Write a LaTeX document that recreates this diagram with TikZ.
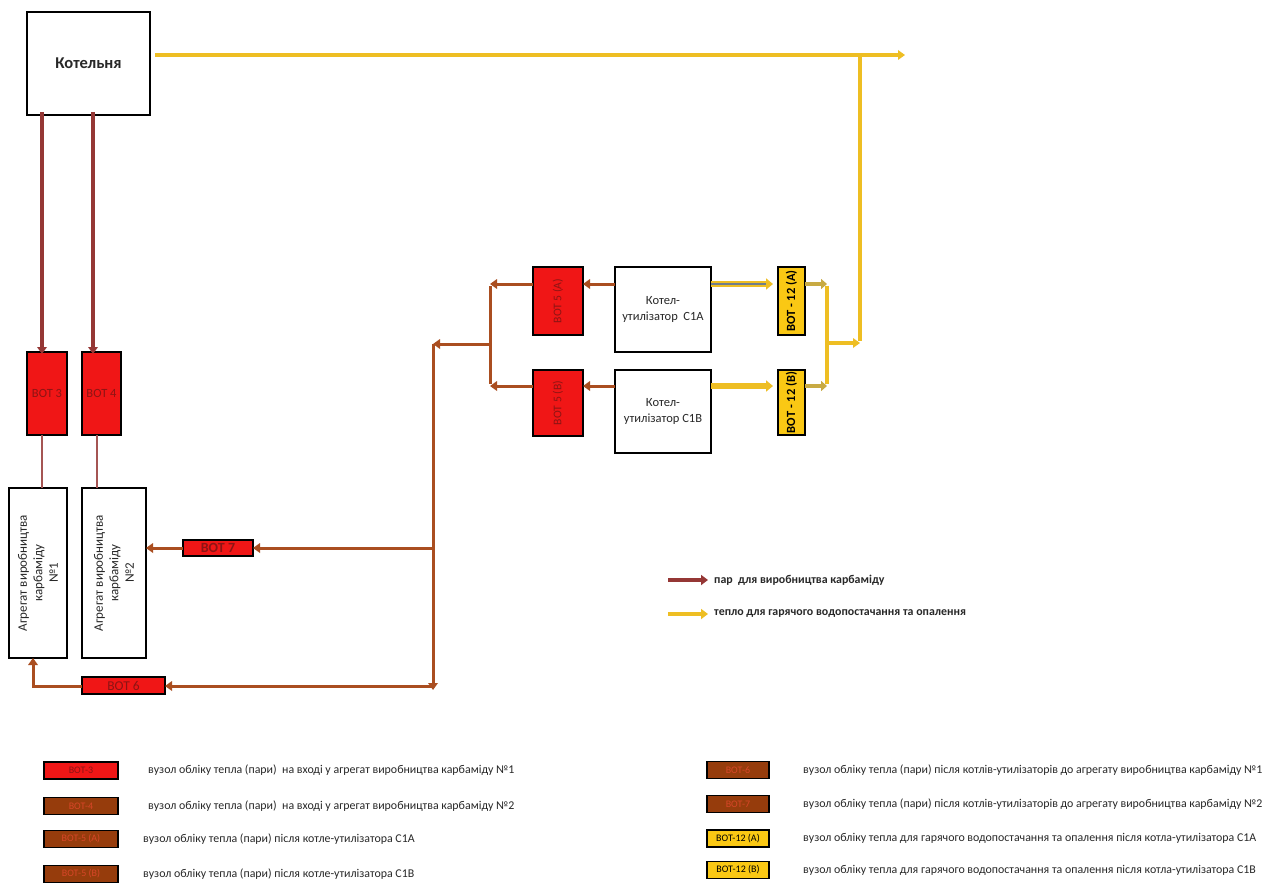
\documentclass[tikz,border=0pt]{standalone}
\usepackage{fontspec}
\setmainfont{Carlito}
\usetikzlibrary{arrows.meta}
\definecolor{steamc}{RGB}{149,55,53}
\definecolor{brownc}{RGB}{170,78,32}
\definecolor{yelc}{RGB}{238,190,35}
\definecolor{grayc}{RGB}{110,125,140}
\definecolor{boxred}{RGB}{240,22,22}
\definecolor{botred}{RGB}{140,20,20}
\definecolor{legbrown}{RGB}{150,60,12}
\definecolor{legtxt}{RGB}{215,70,40}
\definecolor{yelbox}{RGB}{250,200,20}
\definecolor{txtc}{RGB}{40,40,40}
\tikzset{
  wbox/.style={draw=black, line width=1.3pt, fill=white, inner sep=0pt, outer sep=0pt, align=center, text=txtc},
  rbox/.style={draw=black, line width=1.3pt, fill=boxred, inner sep=0pt, outer sep=0pt, text=botred, font=\fontsize{12.5}{13}\selectfont},
  ybox/.style={draw=black, line width=1.3pt, fill=yelbox, inner sep=0pt, outer sep=0pt, text=black, font=\bfseries\fontsize{12.5}{13}\selectfont},
  lgbox/.style={draw=black, line width=1.5pt, inner sep=0pt, outer sep=0pt, minimum width=74, minimum height=17, font=\fontsize{10}{11}\selectfont},
  lgtext/.style={anchor=west, inner sep=0pt, text=txtc, font=\fontsize{11.9}{13}\selectfont},
  aggtext/.style={rotate=90, align=center, text=txtc, font=\fontsize{13}{15.5}\selectfont},
  steam/.style={draw=steamc, line width=3.5pt},
  thin/.style={draw=steamc!85, line width=2pt},
  brn/.style={draw=brownc, line width=3pt},
  yel/.style={draw=yelc, line width=3.3pt},
  tip/.style={-{Triangle[width=9.5pt,length=7pt]}},
}
\begin{document}
\begin{tikzpicture}[x=1pt,y=-1pt]
\useasboundingbox (0,0) rectangle (1277,883);
\fill[white] (0,0) rectangle (1277,883);
% main boxes
\node[wbox, minimum width=123, minimum height=103, font=\bfseries\fontsize{16.5}{18}\selectfont] (kot) at (88.5,63.5) {Котельня};
\node[rbox, minimum width=40, minimum height=83] (bot3) at (47,393.5) {ВОТ 3};
\node[rbox, minimum width=39, minimum height=83] (bot4) at (101.5,393.5) {ВОТ 4};
\node[wbox, minimum width=58, minimum height=170] (agg1) at (38,573) {};
\node[aggtext] (agg1t) at (agg1.center) {Агрегат виробництва\\карбаміду\\№1};
\node[wbox, minimum width=64, minimum height=170] (agg2) at (114,573) {};
\node[aggtext] (agg2t) at (agg2.center) {Агрегат виробництва\\карбаміду\\№2};
\node[rbox, minimum width=70, minimum height=16, font=\bfseries\fontsize{14}{15}\selectfont] (bot7) at (218,548) {ВОТ 7};
\node[rbox, minimum width=83, minimum height=17, font=\fontsize{13.5}{14}\selectfont] (bot6) at (123.5,685.5) {ВОТ 6};
\node[rbox, minimum width=50, minimum height=68, font=\fontsize{11.7}{12}\selectfont] (bot5a) at (558,301) {\rotatebox{90}{ВОТ 5 (А)}};
\node[rbox, minimum width=50, minimum height=66, font=\fontsize{11.7}{12}\selectfont] (bot5b) at (558,403) {\rotatebox{90}{ВОТ 5 (В)}};
\node[wbox, minimum width=96, minimum height=85, font=\fontsize{12.5}{15.5}\selectfont] (c1a) at (663,309.5) {Котел-\\утилізатор\ \ С1А};
\node[wbox, minimum width=96, minimum height=83, font=\fontsize{12.5}{15.5}\selectfont] (c1b) at (663,411.5) {Котел-\\утилізатор С1В};
\node[ybox, minimum width=27, minimum height=68] (b12a) at (791.5,301) {\rotatebox{90}{ВОТ - 12 (А)}};
\node[ybox, minimum width=27, minimum height=65] (b12b) at (791.5,402.5) {\rotatebox{90}{ВОТ - 12 (В)}};
% helper coordinates
\coordinate (x3) at (42,0);
\coordinate (x4) at (93,0);
\coordinate (x4t) at (97,0);
\coordinate (ya) at (0,284);
\coordinate (yb) at (0,386);
\coordinate (jA) at (490,284);
\coordinate (jB) at (490,386);
\coordinate (jM) at (490,344);
\coordinate (vT) at (433,344);
\coordinate (v7) at (433,548);
\coordinate (vB) at (433,686);
\coordinate (l6) at (33,686);
\coordinate (yend) at (905,55);
\coordinate (yj) at (860,55);
\coordinate (cA) at (827,284);
\coordinate (cB) at (827,386);
\coordinate (cM) at (827,343);
\coordinate (cR) at (860,343);
% steam from boiler house
\draw[steam,tip] ([yshift=3]kot.south -| x3) -- ([yshift=-2]bot3.north -| x3);
\draw[steam,tip] ([yshift=3]kot.south -| x4) -- ([yshift=-2]bot4.north -| x4);
\draw[thin] (bot3.south -| x3) -- (agg1.north -| x3);
\draw[thin] (bot4.south -| x4t) -- (agg2.north -| x4t);
% brown flows
\draw[brn,tip] (c1a.west |- ya) -- (bot5a.east |- ya);
\draw[brn,tip] (c1b.west |- yb) -- (bot5b.east |- yb);
\draw[brn,tip] (bot5a.west |- ya) -- (jA);
\draw[brn,tip] (bot5b.west |- yb) -- (jB);
\draw[brn] ([yshift=-2]jA) -- ([yshift=2]jB);
\draw[brn,tip] (jM) -- (vT);
\draw[brn] ([yshift=-1.5]vT) -- ([yshift=1.5]vB);
\draw[brn,tip] (vT) -- ([yshift=-4]vB);
\draw[brn,tip] (v7) -- (bot7.east |- v7);
\draw[brn,tip] (bot7.west |- v7) -- (agg2.east |- v7);
\draw[brn,tip] (vB) -- (bot6.east |- vB);
\draw[brn,tip] (bot6.west |- vB) -- (l6) -- (agg1.south -| l6);
% yellow flows
\draw[yel,tip] ([xshift=5]kot.east |- yend) -- (yend);
\draw[draw=yelc, line width=5.5pt,-{Triangle[width=11pt,length=7pt]}] (c1a.east |- ya) -- ([xshift=-5]b12a.west |- ya);
\draw[draw=grayc, line width=2.2pt] (c1a.east |- ya) -- ([xshift=-12]b12a.west |- ya);
\draw[draw=yelc, line width=5.5pt,-{Triangle[width=11pt,length=7pt]}] (c1b.east |- yb) -- ([xshift=-5]b12b.west |- yb);
\draw[draw=yelc!70!grayc, line width=4.5pt,-{Triangle[width=10pt,length=6pt]}] (b12a.east |- ya) -- (cA);
\draw[draw=yelc!70!grayc, line width=4.5pt,-{Triangle[width=10pt,length=6pt]}] (b12b.east |- yb) -- (cB);
\draw[yel] ([yshift=-1.6]cA) -- ([yshift=1.6]cB);
\draw[yel,tip] (cM) -- (cR);
\draw[yel] ([yshift=1.6]cR) -- (yj);
% legend arrows
\coordinate (la1) at (668,580);
\coordinate (la2) at (708,580);
\coordinate (lb1) at (668,614);
\coordinate (lb2) at (708,614);
\draw[draw=steamc, line width=4.5pt, -{Triangle[width=10pt,length=7pt]}] (la1) -- (la2);
\draw[draw=yelc, line width=4.5pt, -{Triangle[width=10pt,length=7pt]}] (lb1) -- (lb2);
\node[lgtext, font=\bfseries\fontsize{11.9}{13}\selectfont] (lt1) at (714,580) {пар\ \ для виробництва карбаміду};
\node[lgtext, font=\bfseries\fontsize{11.9}{13}\selectfont] (lt2) at (714,614) {тепло для гарячого водопостачання та опалення};
% bottom legend
\node[lgbox, fill=boxred, text=botred] (k1) at (81,770.5) {ВОТ-3};
\node[lgbox, fill=legbrown, text=legtxt] (k2) at (81,806) {ВОТ-4};
\node[lgbox, fill=legbrown, text=legtxt] (k3) at (81,839) {ВОТ-5 (А)};
\node[lgbox, fill=legbrown, text=legtxt] (k4) at (81,874) {ВОТ-5 (В)};
\node[lgtext] (t1) at (148,770.5) {вузол обліку тепла (пари)\ \ на вході у агрегат виробництва карбаміду №1};
\node[lgtext] (t2) at (148,806) {вузол обліку тепла (пари)\ \ на вході у агрегат виробництва карбаміду №2};
\node[lgtext] (t3) at (143,839) {вузол обліку тепла (пари) після котле-утилізатора С1А};
\node[lgtext] (t4) at (143,874) {вузол обліку тепла (пари) після котле-утилізатора С1В};
\node[lgbox, minimum width=62, fill=legbrown, text=legtxt] (k5) at (738,770) {ВОТ-6};
\node[lgbox, minimum width=62, fill=legbrown, text=legtxt] (k6) at (738,804) {ВОТ-7};
\node[lgbox, minimum width=62, fill=yelbox, text=black] (k7) at (738,838.5) {ВОТ-12 (А)};
\node[lgbox, minimum width=62, fill=yelbox, text=black] (k8) at (738,870) {ВОТ-12 (В)};
\node[lgtext] (t5) at (803,770) {вузол обліку тепла (пари) після котлів-утилізаторів до агрегату виробництва карбаміду №1};
\node[lgtext] (t6) at (803,804) {вузол обліку тепла (пари) після котлів-утилізаторів до агрегату виробництва карбаміду №2};
\node[lgtext] (t7) at (803,838.5) {вузол обліку тепла для гарячого водопостачання та опалення після котла-утилізатора С1А};
\node[lgtext] (t8) at (803,870) {вузол обліку тепла для гарячого водопостачання та опалення після котла-утилізатора С1В};
\end{tikzpicture}
\end{document}
